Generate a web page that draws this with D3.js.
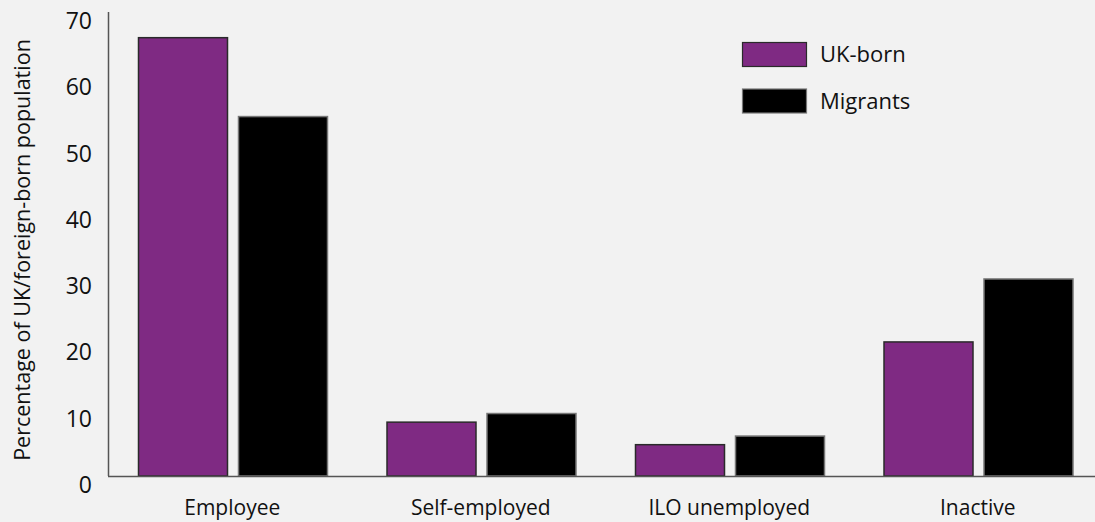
<!DOCTYPE html>
<html><head><meta charset="utf-8">
<script src="https://cdn.jsdelivr.net/npm/d3@7"></script>
<style>
html,body{margin:0;padding:0;background:#f2f2f2;}
svg{display:block;}
text{font-family:"Open Sans","Noto Sans",sans-serif;fill:#111;}
</style></head>
<body>
<svg id="chart" width="1095" height="522"></svg>
<script>
const categories = ["Employee", "Self-employed", "ILO unemployed", "Inactive"];
const seriesNames = ["UK-born", "Migrants"];
const ukBorn = [66.2, 8.2, 4.8, 20.3];
const migrants = [54.3, 9.5, 6.1, 29.8];
const yTicks = [0, 10, 20, 30, 40, 50, 60, 70];
const yTitle = "Percentage of UK/foreign-born population";

(function () {
const colors = {"UK-born": "#7f2a83", "Migrants": "#000000"};
const strokes = {"UK-born": "#2a2a2a", "Migrants": "#777777"};

const svg = d3.select("#chart");
const mLeft = 108, mRight = 1102, mTop = 12, mBottom = 476;

const x = d3.scaleBand().domain(categories).range([mLeft, mRight]).padding(0);
const xs = d3.scaleBand().domain(seriesNames).range([30, 220]).paddingInner(0.1);
const y = d3.scaleLinear().domain([0, 70]).range([mBottom, mTop]);

const data = categories.map((c, i) => ({cat: c, vals: [
  {s: "UK-born", v: ukBorn[i]}, {s: "Migrants", v: migrants[i]}]}));

const g = svg.append("g");
g.selectAll("g.grp").data(data).join("g").attr("class", "grp")
  .attr("transform", d => `translate(${x(d.cat)},0)`)
  .selectAll("rect").data(d => d.vals).join("rect")
  .attr("x", d => xs(d.s) + 0.5)
  .attr("y", d => y(d.v) + 0.5)
  .attr("width", xs.bandwidth() - 1)
  .attr("height", d => mBottom - y(d.v) - 0.5)
  .attr("fill", d => colors[d.s])
  .attr("stroke", d => strokes[d.s])
  .attr("stroke-width", 1.5);

svg.append("line").attr("x1", mLeft + 0.5).attr("x2", mLeft + 0.5)
  .attr("y1", mTop).attr("y2", mBottom).attr("stroke", "#555").attr("stroke-width", 1.5);
svg.append("line").attr("x1", mLeft).attr("x2", 1095)
  .attr("y1", mBottom + 0.5).attr("y2", mBottom + 0.5).attr("stroke", "#555").attr("stroke-width", 1.5);

svg.append("g").selectAll("text").data(yTicks).join("text")
  .attr("x", 92).attr("y", d => y(d) + 17)
  .attr("text-anchor", "end")
  .style("font-size", "23px")
  .text(d => d);

svg.append("g").selectAll("text").data(categories).join("text")
  .attr("x", d => x(d) + x.bandwidth() / 2).attr("y", 515)
  .attr("text-anchor", "middle")
  .style("font-size", "21px")
  .text(d => d);

svg.append("text")
  .attr("transform", "translate(30,250) rotate(-90)")
  .attr("text-anchor", "middle")
  .style("font-size", "21.5px")
  .text(yTitle);

const leg = svg.append("g");
seriesNames.forEach((s, i) => {
  const yy = 42 + i * 46.5;
  leg.append("rect").attr("x", 742.5).attr("y", yy + 0.5).attr("width", 64).attr("height", 24)
    .attr("fill", colors[s]).attr("stroke", strokes[s]).attr("stroke-width", 1.2);
  leg.append("text").attr("x", 820).attr("y", 62 + i * 47).style("font-size", "22px").text(s);
});
})();
</script>
</body></html>
